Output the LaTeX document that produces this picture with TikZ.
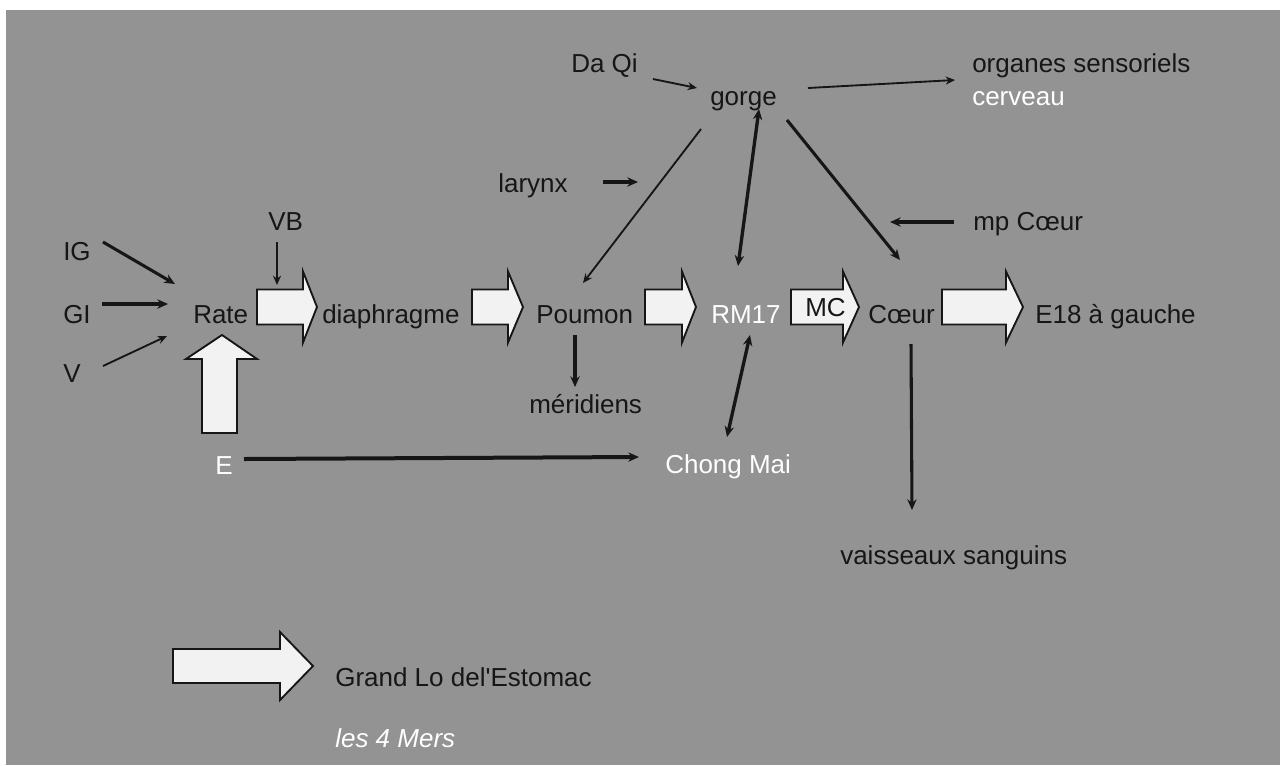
\documentclass[tikz,border=0pt]{standalone}
\usepackage{fontspec}
\setmainfont{Liberation Sans}
\usetikzlibrary{arrows.meta}
\definecolor{bg}{RGB}{147,147,147}
\definecolor{afill}{RGB}{242,242,242}
\definecolor{ink}{RGB}{22,22,22}
\newcommand\myrarrow[4]{\draw[blockarr] (#1,#4-17.5) -- (#2,#4-17.5) -- (#2,#4-35.5) -- (#3,#4) -- (#2,#4+35.5) -- (#2,#4+17.5) -- (#1,#4+17.5) -- cycle;}
\tikzset{
  lbl/.style={inner sep=0pt, anchor=base west, text=ink, font=\fontsize{19.5}{23}\selectfont},
  wlbl/.style={lbl, text=white},
  blockarr/.style={draw=ink, line width=1.4pt, fill=afill, line join=miter},
  thk/.style={draw=ink, line width=2.3pt, -{Stealth[length=8pt,width=7pt]}},
  thn/.style={draw=ink, line width=1.4pt, -{Stealth[length=7pt,width=6pt]}},
  bithk/.style={draw=ink, line width=2.5pt, {Stealth[length=8pt,width=7pt]}-{Stealth[length=8pt,width=7pt]}}
}
\begin{document}
\begin{tikzpicture}[x=0.75pt,y=-0.75pt]
\useasboundingbox (0,0) rectangle (1280,765);
\fill[white] (0,0) rectangle (1280,765);
\fill[bg] (6,10) rectangle (1280,765);

% block arrows
\myrarrow{257}{303}{317}{307}
\myrarrow{472}{508}{523}{307}
\myrarrow{645}{682}{696}{307}
\myrarrow{791}{843}{859}{307}
\myrarrow{942}{1006}{1023}{307}
\draw[blockarr] (202,433) -- (202,359) -- (186,359) -- (222,335) -- (257,359) -- (237,359) -- (237,433) -- cycle;
\draw[blockarr] (173,649) -- (280,649) -- (280,632) -- (313,666) -- (280,700) -- (280,683) -- (173,683) -- cycle;

% labels
\node[lbl] (DaQi) at (571,72) {Da Qi};
\node[lbl] (gorge) at (710,105) {gorge};
\node[lbl] (organes) at (972,72) {organes sensoriels};
\node[wlbl] (cerveau) at (972,105) {cerveau};
\node[lbl] (larynx) at (498,192) {larynx};
\node[lbl] (mpcoeur) at (973,230) {mp Cœur};
\node[lbl] (VB) at (268,230) {VB};
\node[lbl] (IG) at (63,260) {IG};
\node[lbl] (GI) at (63,323) {GI};
\node[lbl] (V) at (63,382) {V};
\node[lbl] (Rate) at (193,323) {Rate};
\node[lbl] (diaph) at (322,323) {diaphragme};
\node[lbl] (Poumon) at (536,323) {Poumon};
\node[wlbl] (RM) at (711,323) {RM17};
\node[lbl] (MC) at (805,316) {MC};
\node[lbl] (Coeur) at (868,323) {Cœur};
\node[lbl] (E18) at (1035,323) {E18 à gauche};
\node[lbl] (merid) at (529,413) {méridiens};
\node[wlbl] (E) at (215,474) {E};
\node[wlbl] (Chong) at (665,473) {Chong Mai};
\node[lbl] (vaiss) at (840,564) {vaisseaux sanguins};
\node[lbl] (grandlo) at (335,686) {Grand Lo del\textquotesingle Estomac};
\node[wlbl, font=\fontsize{19.5}{23}\selectfont\itshape] (mers) at (335,747) {les 4 Mers};

% free ends
\coordinate (VBend) at (277,285);
\coordinate (larend) at (638,182);
\coordinate (mpend) at (890,222);

% connectors
\draw[thk] ([shift={(40,-18)}]IG.base west) -- ([shift={(-18,-39)}]Rate.base west);
\draw[thk] ([shift={(39,-19)}]GI.base west) -- ([shift={(-25,-19)}]Rate.base west);
\draw[thn] ([shift={(40,-16)}]V.base west) -- ([shift={(-26,13)}]Rate.base west);
\draw[thn] ([shift={(9,12)}]VB.base west) -- (VBend);
\draw[thn] ([shift={(82,7)}]DaQi.base west) -- ([shift={(-13,-17)}]gorge.base west);
\draw[thn] ([shift={(98,-17)}]gorge.base west) -- ([shift={(-17,8)}]organes.base west);
\draw[thk] ([shift={(105,-10)}]larynx.base west) -- (larend);
\draw[thn] ([shift={(-9,24)}]gorge.base west) -- ([shift={(47,-40)}]Poumon.base west);
\draw[bithk] ([shift={(49,4)}]gorge.base west) -- ([shift={(27,-57)}]RM.base west);
\draw[thk] ([shift={(77,15)}]gorge.base west) -- ([shift={(32,-63)}]Coeur.base west);
\draw[thk] ([shift={(-19,-8)}]mpcoeur.base west) -- (mpend);
\draw[thk] ([shift={(39,12)}]Poumon.base west) -- ([shift={(46,-26)}]merid.base west);
\draw[bithk] ([shift={(39,12)}]RM.base west) -- ([shift={(62,-36)}]Chong.base west);
\draw[thk] ([shift={(43,21)}]Coeur.base west) -- ([shift={(72,-54)}]vaiss.base west);
\draw[draw=ink, line width=3pt, -{Stealth[length=8pt,width=7pt]}] ([shift={(29,-15)}]E.base west) -- ([shift={(-26,-16)}]Chong.base west);
\end{tikzpicture}
\end{document}
